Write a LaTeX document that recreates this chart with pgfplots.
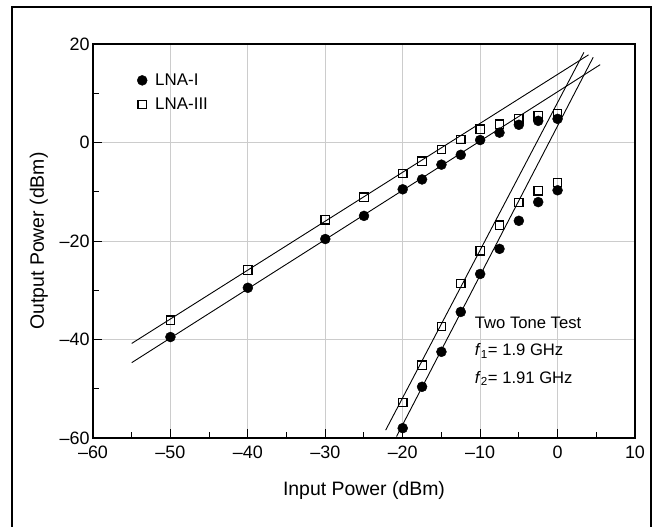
\documentclass[border=0pt]{standalone}
\usepackage{pgfplots}
\pgfplotsset{compat=1.18}
\usepackage{fontspec}
\setmainfont{Liberation Sans}
\begin{document}
\begin{tikzpicture}
\path[use as bounding box] (0,0) rectangle (656bp,527bp);
\draw[line width=1.3bp] (12bp,-10bp) -- (12bp,520bp) -- (651bp,520bp) -- (651bp,-10bp);
\begin{axis}[
  at={(93bp,89bp)}, anchor=south west,
  scale only axis, width=542bp, height=394bp,
  xmin=-60, xmax=10, ymin=-60, ymax=20,
  xtick={-60,-50,...,10}, ytick={-60,-40,...,20},
  xticklabels={\textendash60,\textendash50,\textendash40,\textendash30,\textendash20,\textendash10,0,10},
  yticklabels={\textendash60,\textendash40,\textendash20,0,20},
  minor x tick num=1, minor y tick num=1,
  tick align=inside, xtick pos=bottom, ytick pos=left,
  major tick length=9bp, minor tick length=6bp,
  every tick/.style={black, line width=1bp},
  axis line style={line width=1.3bp},
  grid=major, major grid style={gray!40, line width=1bp},
  tick label style={font=\fontsize{18}{21}\selectfont},
  xticklabel style={yshift=-4bp},
  label style={font=\fontsize{19.5}{23}\selectfont},
  xlabel={Input Power (dBm)}, ylabel={Output Power (dBm)},
  xlabel style={at={(axis description cs:0.5,-0.132)}, anchor=center},
  ylabel style={at={(axis description cs:-0.100,0.5)}, anchor=center},
  clip=false,
  legend style={draw=none, fill=none, font=\fontsize{17}{20}\selectfont,
    at={(axis cs:-54.7,14.8)}, anchor=north west, row sep=7bp,
    /tikz/every odd column/.append style={column sep=6bp}},
  legend cell align=left,
]
\addplot[black, line width=0.9bp, forget plot] coordinates {(-55,-44.7) (5.5,15.8)};
\addplot[black, line width=0.9bp, forget plot] coordinates {(-55,-40.8) (4.0,17.8)};
\addplot[black, line width=0.9bp, forget plot] coordinates {(-20.8,-59.7) (4.6,17.3)};
\addplot[black, line width=0.9bp, forget plot] coordinates {(-22.2,-58.4) (3.4,18.3)};
\addplot[only marks, mark=*, mark size=5bp, black] coordinates {
(-50,-39.5) (-40,-29.5) (-30,-19.6) (-25,-14.9) (-20,-9.5) (-17.5,-7.5) (-15,-4.5) (-12.5,-2.5) (-10,0.5) (-7.5,2.0) (-5,3.6) (-2.5,4.4) (0,4.8)};
\addlegendentry{LNA-I}
\addplot[only marks, mark=square, mark size=4.2bp, black, mark options={line width=1.2bp}] coordinates {
(-50,-36.1) (-40,-25.9) (-30,-15.7) (-25,-11.1) (-20,-6.3) (-17.5,-3.8) (-15,-1.4) (-12.5,0.6) (-10,2.7) (-7.5,3.7) (-5,4.8) (-2.5,5.4) (0,5.8)};
\addlegendentry{LNA-III}
\addplot[only marks, mark=*, mark size=5bp, black, forget plot] coordinates {
(-20,-58.0) (-17.5,-49.6) (-15,-42.5) (-12.5,-34.4) (-10,-26.7) (-7.5,-21.6) (-5,-15.9) (-2.5,-12.1) (0,-9.7)};
\addplot[only marks, mark=square, mark size=4.2bp, black, mark options={line width=1.2bp}, forget plot] coordinates {
(-20,-52.8) (-17.5,-45.2) (-15,-37.4) (-12.5,-28.6) (-10,-22.0) (-7.5,-16.8) (-5,-12.2) (-2.5,-9.8) (0,-8.1)};
\node[anchor=west, align=left, font=\fontsize{16.7}{27.5}\selectfont, inner sep=0pt] at (axis cs:-10.7,-42.4)
  {Two Tone Test\\ \textit{f}\textsubscript{1}= 1.9 GHz\\ \textit{f}\textsubscript{2}= 1.91 GHz};
\end{axis}
\end{tikzpicture}
\end{document}
